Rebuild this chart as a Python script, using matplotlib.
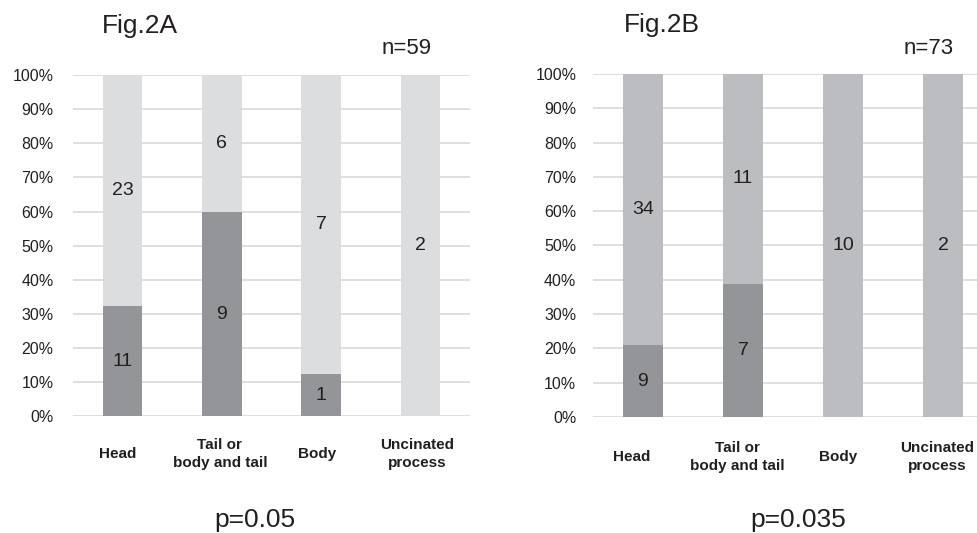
import matplotlib
matplotlib.use("Agg")
import matplotlib.pyplot as plt
import matplotlib.transforms as mtransforms
import numpy as np

# Fig.2A / Fig.2B: stacked 100% bars by tumour location
categories = ["Head", "Tail or\nbody and tail", "Body", "Uncinated\nprocess"]

dark_a = [11, 9, 1, 0]
light_a = [23, 6, 7, 2]
dark_b = [9, 7, 0, 0]
light_b = [34, 11, 10, 2]

panel_titles = ["Fig.2A", "Fig.2B"]
n_labels = ["n=59", "n=73"]
p_labels = ["p=0.05", "p=0.035"]

plt.rcParams['font.family'] = ['Liberation Sans', 'DejaVu Sans']

fig = plt.figure(figsize=(9.78, 5.33), dpi=100)

panels = [
    dict(rect=[0.0746, 0.2186, 0.406, 0.6407], dark=dark_a, light=light_a,
         light_col='#DCDDDF', dark_col='#939598', ypad=14, xpad=27,
         shifts=[-5, -2, -4, -3]),
    dict(rect=[0.6063, 0.2176, 0.409, 0.6436], dark=dark_b, light=light_b,
         light_col='#BCBDC0', dark_col='#939598', ypad=12, xpad=29,
         shifts=[-11, -6, -5, -6]),
]

for i, p in enumerate(panels):
    ax = fig.add_axes(p['rect'])
    dark = np.array(p['dark'], dtype=float)
    light = np.array(p['light'], dtype=float)
    total = dark + light
    dpct = dark / total * 100
    lpct = light / total * 100
    x = np.arange(len(categories))

    ax.bar(x, dpct, width=0.4, color=p['dark_col'], zorder=2)
    ax.bar(x, lpct, width=0.4, bottom=dpct, color=p['light_col'], zorder=2)

    for xi, d, l, dp, lp in zip(x, dark, light, dpct, lpct):
        if d > 0:
            ax.text(xi, dp / 2, f"{int(d)}", ha='center', va='center',
                    fontsize=14, color='#231F20', zorder=3)
        if l > 0:
            ax.text(xi, dp + lp / 2, f"{int(l)}", ha='center', va='center',
                    fontsize=14, color='#231F20', zorder=3)

    ax.set_xlim(-0.5, 3.5)
    ax.set_ylim(0, 100)
    ax.set_yticks(np.arange(0, 101, 10))
    ax.set_yticklabels([f"{v}%" for v in range(0, 101, 10)], fontsize=11.5,
                       color='#231F20')
    ax.tick_params(axis='y', length=0, pad=p['ypad'])
    ax.set_xticks(x)
    ax.set_xticklabels(categories, fontsize=11, fontweight='bold',
                       color='#231F20', linespacing=1.35, va='center')
    ax.tick_params(axis='x', length=0, pad=p['xpad'])
    for lab, dx in zip(ax.get_xticklabels(), p['shifts']):
        off = mtransforms.ScaledTranslation(dx / 100, 0, fig.dpi_scale_trans)
        lab.set_transform(lab.get_transform() + off)
    ax.grid(axis='y', color='#D9D9D9', linewidth=1.2, zorder=0)
    ax.set_axisbelow(True)
    for s in ax.spines.values():
        s.set_visible(False)
    ax.patch.set_alpha(0)

# Titles, n and p annotations
fig.text(140 / 978, 1 - 26 / 533, panel_titles[0], fontsize=19,
         ha='center', va='center', color='#231F20')
fig.text(662 / 978, 1 - 25 / 533, panel_titles[1], fontsize=19,
         ha='center', va='center', color='#231F20')
fig.text(407 / 978, 1 - 49 / 533, n_labels[0], fontsize=16,
         ha='center', va='center', color='#231F20')
fig.text(929 / 978, 1 - 48 / 533, n_labels[1], fontsize=16,
         ha='center', va='center', color='#231F20')
fig.text(255 / 978, 1 - 520 / 533, p_labels[0], fontsize=19,
         ha='center', va='center', color='#231F20')
fig.text(798 / 978, 1 - 520 / 533, p_labels[1], fontsize=19,
         ha='center', va='center', color='#231F20')

fig.savefig("out.png", dpi=100, facecolor='white')
